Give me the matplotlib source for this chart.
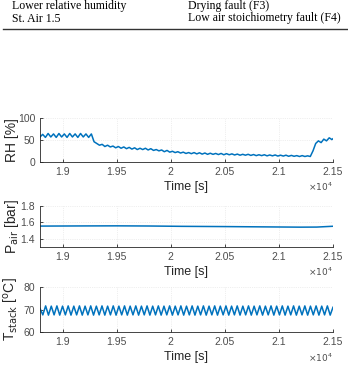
import numpy as np
import matplotlib
matplotlib.use("Agg")
import matplotlib.pyplot as plt

# ---- data ----
table_left = ["Lower relative humidity", "St. Air 1.5"]
table_right = ["Drying fault (F3)", "Low air stoichiometry fault (F4)"]

x_ticks = [19000, 19500, 20000, 20500, 21000, 21500]
x_tick_labels = ["1.9", "1.95", "2", "2.05", "2.1", "2.15"]
x_min, x_max = 18790, 21500

# RH [%] sampled every 25 s starting at 18790 s
rh_t0, rh_dt = 18790, 25
rh = [57, 63, 56, 65, 57, 64, 56, 65, 57, 64, 56, 65, 57, 64, 56, 65, 57, 64, 56, 64,
      46, 42, 38, 40, 35, 38, 34, 36, 32, 35, 31,
      34, 30, 33, 29, 32, 28, 31, 28, 31, 27,
      30, 26, 28, 25, 27, 23, 26, 22, 24, 21,
      23, 20, 22, 19, 21, 18.5, 21, 18, 20.5, 17.5,
      20, 17, 19.5, 17, 19, 16.5, 19, 16, 18.5, 16,
      18, 15.5, 17.5, 15, 17, 15, 17, 14.5, 16.5, 14,
      16, 14, 16, 13.5, 15.5, 13.5, 15.5, 13, 15, 13,
      15, 12.5, 14.5, 12.5, 14, 12, 14, 12, 13.5, 12,
      25, 42, 48, 44, 52, 48, 55, 51, 56]

# P_air [bar]
pair_t = [18790, 19200, 19500, 19800, 20100, 20500, 20900, 21200, 21350, 21500]
pair = [1.555, 1.557, 1.558, 1.556, 1.552, 1.549, 1.545, 1.542, 1.543, 1.553]

# T_stack [degC] zigzag vertices (peak / trough), evenly spaced in time
tstack = [70.5, 67.6, 71.6, 67.5, 71.5, 67.6, 71.6, 67.5, 71.5, 67.6,
          71.6, 67.5, 71.5, 67.6, 71.6, 67.5, 71.5, 67.6, 71.6, 67.5,
          71.5, 67.6, 71.6, 67.5, 71.5, 67.6, 71.6, 67.5, 71.5, 67.6,
          71.6, 67.5, 71.5, 67.6, 71.6, 67.5, 71.5, 67.6, 71.6, 67.5,
          71.5, 67.6, 71.6, 67.5, 71.5, 67.6, 71.6, 67.5, 71.5, 67.6,
          71.6, 67.5, 71.5, 67.6, 71.6, 67.5, 71.5, 67.6, 71.6, 67.5,
          71.5, 67.6, 71.6, 67.5, 71.5, 67.6, 71.6, 67.5, 71.5, 67.6,
          71.6, 67.5, 71.5, 67.6, 71.6, 67.5, 71.5, 67.6, 71.6, 67.5,
          71.5, 67.6, 71.6, 67.5, 71.5, 67.6, 71.6, 67.5, 71.5, 67.6,
          71.6, 67.5, 71.5, 67.6, 71.6, 67.5, 71.5, 67.6, 71.6, 67.5,
          71.5, 67.6, 71.6, 67.5, 71.0]

rh_yticks = [0, 50, 100]
pair_yticks = [1.4, 1.6, 1.8]
t_yticks = [60, 70, 80]

# ---- figure ----
W, H = 348, 374
fig = plt.figure(figsize=(W / 100, H / 100), dpi=100)
fig.patch.set_facecolor("white")

serif = ["Liberation Serif", "DejaVu Serif"]
sans = ["Liberation Sans", "DejaVu Sans"]

# table fragment
tfs = 8.5
fig.text(12 / W, 1 - 6 / H, table_left[0], family=serif, fontsize=tfs, va="center", ha="left")
fig.text(12 / W, 1 - 18.5 / H, table_left[1], family=serif, fontsize=tfs, va="center", ha="left")
fig.text(188 / W, 1 - 6 / H, table_right[0], family=serif, fontsize=tfs, va="center", ha="left")
fig.text(188 / W, 1 - 18.5 / H, table_right[1], family=serif, fontsize=tfs, va="center", ha="left")
fig.add_artist(plt.Line2D([3 / W, 1.0], [1 - 29.3 / H, 1 - 29.3 / H],
                          transform=fig.transFigure, color="#333333", lw=1.0))

line_color = "#0072BD"
tick_color = "#262626"
gray = "#4d4d4d"
xlab_fs = 9
ylab_fs = 10


def make_ax(top_px, bot_px, ylabel):
    left, right = 40 / W, 333 / W
    h = bot_px - top_px
    ax = fig.add_axes([left, 1 - bot_px / H, right - left, h / H])
    ax.set_xlim(x_min, x_max)
    ax.set_xticks(x_ticks)
    ax.set_xticklabels(x_tick_labels)
    for s in ["top", "right"]:
        ax.spines[s].set_visible(False)
    for s in ["left", "bottom"]:
        ax.spines[s].set_color(tick_color)
        ax.spines[s].set_linewidth(0.6)
    ax.tick_params(direction="in", length=2.5, width=0.6, colors=tick_color,
                   labelsize=7.5, labelcolor=gray, pad=3.5)
    ax.grid(True, color="#e0e0e0", lw=0.5, ls=":")
    xl = ax.set_xlabel("Time [s]", family=sans, fontsize=xlab_fs, color="#262626", va="center")
    ax.xaxis.set_label_coords(0.5, -25.3 / h)
    yl = ax.set_ylabel(ylabel, family=sans, fontsize=ylab_fs, color="#262626", va="center")
    ax.yaxis.set_label_coords(-28 / 293, 0.5)
    ax.text(1.0, -25.3 / h, r"$\times10^4$", transform=ax.transAxes, ha="right", va="center",
            fontsize=6.5, color=gray)
    return ax


# RH
ax1 = make_ax(118.3, 161.7, "RH [%]")
rh_t = rh_t0 + rh_dt * np.arange(len(rh))
ax1.plot(rh_t, rh, color=line_color, lw=1.1)
ax1.set_ylim(0, 100)
ax1.set_yticks(rh_yticks)

# P_air
ax2 = make_ax(206, 247, r"P$_{\rm air}$ [bar]")
ax2.plot(pair_t, pair, color=line_color, lw=1.1)
ax2.set_ylim(1.3, 1.8)
ax2.set_yticks(pair_yticks)

# T_stack
ax3 = make_ax(287, 332, r"T$_{\rm stack}$ [$^{\rm o}$C]")
t_t = np.linspace(x_min, x_max, len(tstack))
ax3.plot(t_t, tstack, color=line_color, lw=1.1)
ax3.set_ylim(60, 80)
ax3.set_yticks(t_yticks)

for ax in (ax1, ax2, ax3):
    for lab in ax.get_xticklabels() + ax.get_yticklabels():
        lab.set_family(sans)

fig.savefig("out.png", dpi=100, facecolor="white")
